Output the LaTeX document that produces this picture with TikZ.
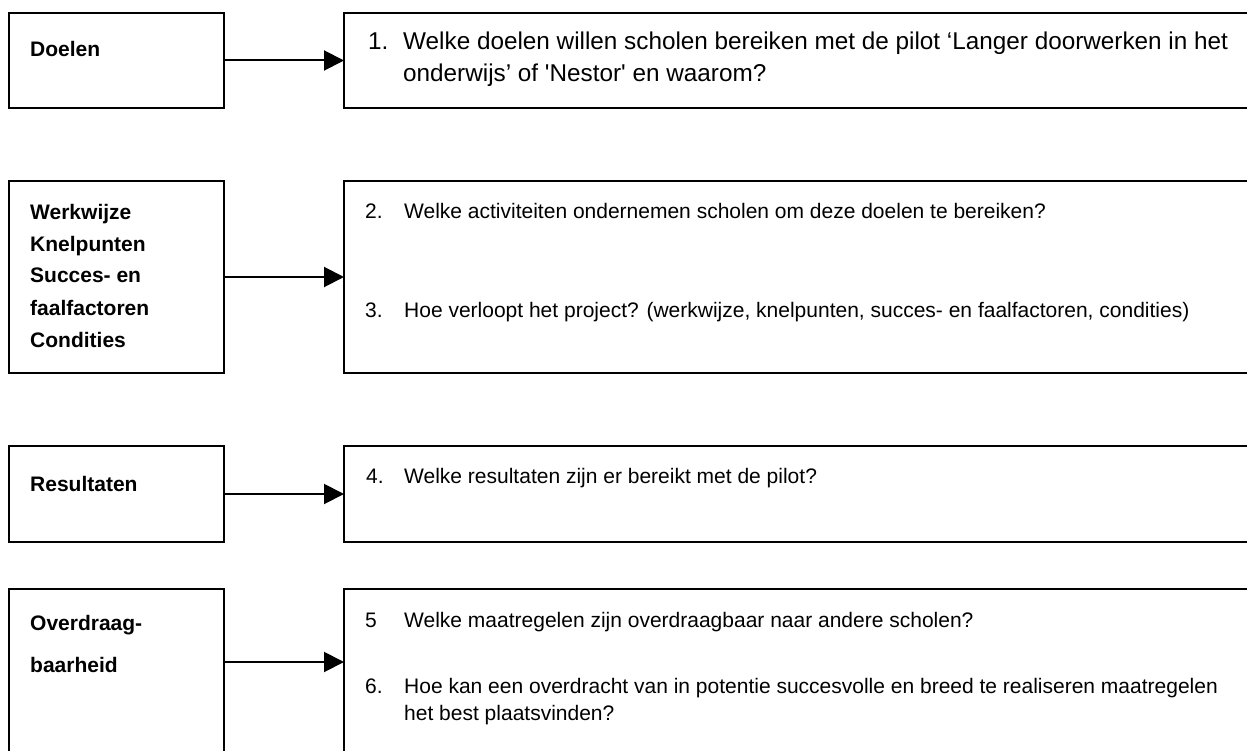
\documentclass[tikz,border=0pt]{standalone}
\usepackage{fontspec}
\setmainfont{Liberation Sans}[Ligatures=TeXOff]
\usetikzlibrary{arrows.meta}
\tikzset{
  box/.style={draw=black, line width=1.8pt, rectangle, anchor=north west, inner sep=0pt, outer sep=0pt},
  conn/.style={line width=2pt, -{Triangle[length=20pt,width=20pt]}},
  lbl/.style={anchor=base west, inner sep=0pt, font=\fontsize{21}{26}\selectfont\bfseries},
  qtxt/.style={anchor=base west, inner sep=0pt, font=\fontsize{21}{26}\selectfont},
  qbig/.style={anchor=base west, inner sep=0pt, font=\fontsize{24.3}{29}\selectfont}
}
\begin{document}
\begin{tikzpicture}[x=1pt,y=-1pt]
\useasboundingbox (0,0) rectangle (1247,751);
\clip (0,0) rectangle (1247,751);
\fill[white] (0,0) rectangle (1247,751);
% boxes
\node[box, minimum width=215pt, minimum height=95pt] (L1) at (9,13) {};
\node[box, minimum width=916pt, minimum height=95pt] (R1) at (344,13) {};
\node[box, minimum width=215pt, minimum height=192pt] (L2) at (9,181) {};
\node[box, minimum width=916pt, minimum height=192pt] (R2) at (344,181) {};
\node[box, minimum width=215pt, minimum height=96pt] (L3) at (9,446) {};
\node[box, minimum width=916pt, minimum height=96pt] (R3) at (344,446) {};
\node[box, minimum width=215pt, minimum height=200pt] (L4) at (9,589) {};
\node[box, minimum width=916pt, minimum height=200pt] (R4) at (344,589) {};
\coordinate (a4) at (0,662);
% connectors
\draw[conn] (L1.east) -- (R1.west);
\draw[conn] (L2.east) -- (R2.west);
\draw[conn] (L3.east) -- (R3.west);
\draw[conn] (L4.east |- a4) -- (R4.west |- a4);
% left labels
\node[lbl] (t1) at (30,57) {Doelen};
\node[lbl] (t2a) at (30,220) {Werkwijze};
\node[lbl] (t2b) at (30,252) {Knelpunten};
\node[lbl] (t2c) at (30,283) {Succes- en};
\node[lbl] (t2d) at (30,315) {faalfactoren};
\node[lbl] (t2e) at (30,347) {Condities};
\node[lbl] (t3) at (30,491) {Resultaten};
\node[lbl] (t4a) at (30,630) {Overdraag-};
\node[lbl] (t4b) at (30,672) {baarheid};
% questions
\node[qbig] (n1) at (368,50) {1.};
\node[qbig] (q1a) at (403,50) {Welke doelen willen scholen bereiken met de pilot ‘Langer doorwerken in het};
\node[qbig] (q1b) at (403,82) {onderwijs’ of 'Nestor' en waarom?};
\node[qtxt] (n2) at (365,219) {2.};
\node[qtxt] (q2) at (404,219) {Welke activiteiten ondernemen scholen om deze doelen te bereiken?};
\node[qtxt] (n3) at (365,317) {3.};
\node[qtxt] (q3) at (404,317) {Hoe verloopt het project? (werkwijze, knelpunten, succes- en faalfactoren, condities)};
\node[qtxt] (n4) at (366,483) {4.};
\node[qtxt] (q4) at (404,483) {Welke resultaten zijn er bereikt met de pilot?};
\node[qtxt] (n5) at (365,627) {5};
\node[qtxt] (q5) at (404,627) {Welke maatregelen zijn overdraagbaar naar andere scholen?};
\node[qtxt] (n6) at (365,693) {6.};
\node[qtxt] (q6a) at (404,693) {Hoe kan een overdracht van in potentie succesvolle en breed te realiseren maatregelen};
\node[qtxt] (q6b) at (404,720) {het best plaatsvinden?};
\end{tikzpicture}
\end{document}
